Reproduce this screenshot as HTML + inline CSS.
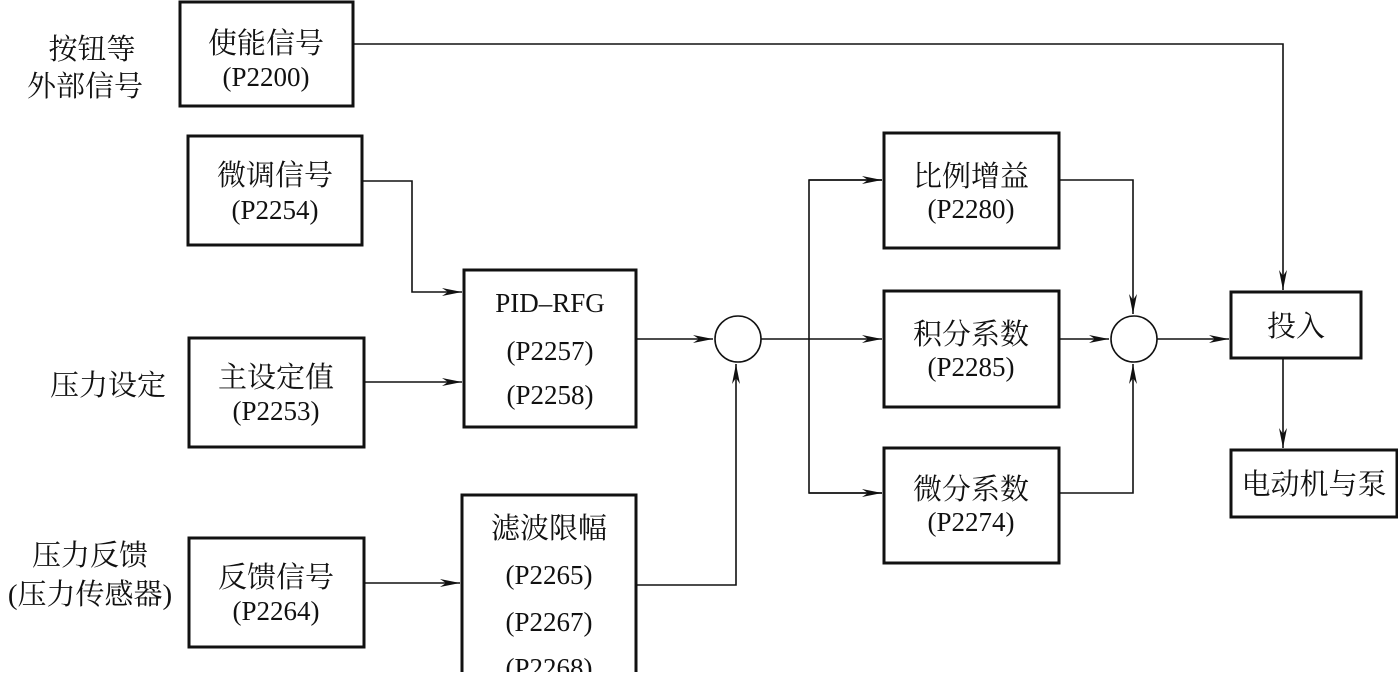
<!DOCTYPE html>
<html><head><meta charset="utf-8"><style>
html,body{margin:0;padding:0;background:#fff;}
svg text{font-family:"Liberation Serif","Noto Serif CJK SC",serif;fill:#111;}
</style></head><body>
<svg width="1398" height="672" viewBox="0 0 1398 672" xmlns="http://www.w3.org/2000/svg">
<defs><marker id="a" markerWidth="22" markerHeight="10" refX="20" refY="5" orient="auto" markerUnits="userSpaceOnUse"><path d="M0,1 L20,5 L0,9 L6,5 Z" fill="#111"/></marker></defs>
<g fill="none" stroke="#111" stroke-width="3">
<rect x="180" y="2" width="173" height="104"/>
<rect x="188" y="136" width="174" height="109"/>
<rect x="189" y="338" width="175" height="109"/>
<rect x="189" y="538" width="175" height="109"/>
<rect x="464" y="270" width="172" height="157"/>
<rect x="462" y="495" width="174" height="180"/>
<rect x="884" y="133" width="175" height="115"/>
<rect x="884" y="291" width="175" height="116"/>
<rect x="884" y="448" width="175" height="115"/>
<rect x="1231" y="292" width="130" height="66"/>
<rect x="1231" y="450" width="166" height="67"/>
</g>
<g fill="none" stroke="#111" stroke-width="1.6">
<circle cx="738" cy="339" r="23"/>
<circle cx="1134" cy="339" r="23"/>
<polyline points="353,44 1283,44 1283,290" marker-end="url(#a)"/>
<polyline points="362,181 412,181 412,292 462,292" marker-end="url(#a)"/>
<line x1="364" y1="382" x2="462" y2="382" marker-end="url(#a)"/>
<line x1="364" y1="583" x2="460" y2="583" marker-end="url(#a)"/>
<line x1="636" y1="339" x2="713" y2="339" marker-end="url(#a)"/>
<polyline points="636,585 736,585 736,364" marker-end="url(#a)"/>
<line x1="761" y1="339" x2="882" y2="339" marker-end="url(#a)"/>
<polyline points="882,180 809,180 809,493 882,493"/>
<line x1="809" y1="180" x2="882" y2="180" marker-end="url(#a)"/>
<line x1="809" y1="493" x2="882" y2="493" marker-end="url(#a)"/>
<polyline points="1059,180 1133,180 1133,314" marker-end="url(#a)"/>
<line x1="1059" y1="339" x2="1109" y2="339" marker-end="url(#a)"/>
<polyline points="1059,493 1133,493 1133,364" marker-end="url(#a)"/>
<line x1="1157" y1="339" x2="1229" y2="339" marker-end="url(#a)"/>
<line x1="1283" y1="358" x2="1283" y2="448" marker-end="url(#a)"/>
</g>
<g font-size="29" text-anchor="middle">
<text x="92" y="59">按钮等</text>
<text x="85" y="96">外部信号</text>
<text x="108" y="395">压力设定</text>
<text x="90" y="565">压力反馈</text>
<text x="90" y="604">(压力传感器)</text>
<text x="266" y="53">使能信号</text>
<text x="266" y="86" font-size="27">(P2200)</text>
<text x="275" y="185">微调信号</text>
<text x="275" y="219" font-size="27">(P2254)</text>
<text x="276" y="387">主设定值</text>
<text x="276" y="420" font-size="27">(P2253)</text>
<text x="276" y="587">反馈信号</text>
<text x="276" y="620" font-size="27">(P2264)</text>
<text x="550" y="312" font-size="27">PID–RFG</text>
<text x="550" y="360" font-size="27">(P2257)</text>
<text x="550" y="404" font-size="27">(P2258)</text>
<text x="549" y="538">滤波限幅</text>
<text x="549" y="584" font-size="27">(P2265)</text>
<text x="549" y="631" font-size="27">(P2267)</text>
<text x="549" y="677" font-size="27">(P2268)</text>
<text x="971" y="186">比例增益</text>
<text x="971" y="218" font-size="27">(P2280)</text>
<text x="971" y="344">积分系数</text>
<text x="971" y="376" font-size="27">(P2285)</text>
<text x="971" y="499">微分系数</text>
<text x="971" y="531" font-size="27">(P2274)</text>
<text x="1296" y="336">投入</text>
<text x="1314" y="494">电动机与泵</text>
</g>
</svg>
</body></html>
